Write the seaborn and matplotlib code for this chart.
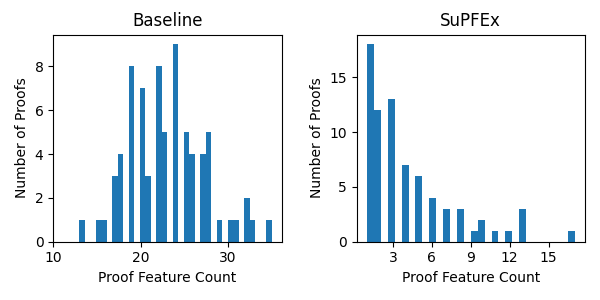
import matplotlib
matplotlib.use("Agg")
import matplotlib.pyplot as plt
import seaborn as sns

# feature counts per proof (value -> number of proofs)
baseline_vals = [13, 15, 16, 17, 18, 19, 20, 21, 22, 23, 24, 25, 26, 27, 28,
                 29, 30, 31, 32, 33, 35]
baseline_counts = [1, 1, 1, 3, 4, 8, 7, 3, 8, 5, 9, 5, 4, 4, 5,
                   1, 1, 1, 2, 1, 1]

supfex_vals = [1, 2, 3, 4, 5, 6, 7, 8, 9, 10, 11, 12, 13, 17]
supfex_counts = [18, 12, 13, 7, 6, 4, 3, 3, 1, 2, 1, 1, 3, 1]

fig, axes = plt.subplots(1, 2, figsize=(6, 3), dpi=100)

# baseline
ax = axes[0]
sns.histplot(x=baseline_vals, weights=baseline_counts, bins=35,
             color='#1f77b4', alpha=1, linewidth=0, ax=ax)
ax.set_title('Baseline')
ax.set_xticks([10, 20, 30])
ax.set_xlabel('Proof Feature Count')
ax.set_ylabel('Number of Proofs')

# supfex
ax = axes[1]
sns.histplot(x=supfex_vals, weights=supfex_counts, bins=30,
             color='#1f77b4', alpha=1, linewidth=0, ax=ax)
ax.set_title('SuPFEx')
ax.set_xticks([3, 6, 9, 12, 15])
ax.set_xlabel('Proof Feature Count')
ax.set_ylabel('Number of Proofs')

plt.tight_layout()
fig.subplots_adjust(top=0.885)
plt.savefig('out.png')
